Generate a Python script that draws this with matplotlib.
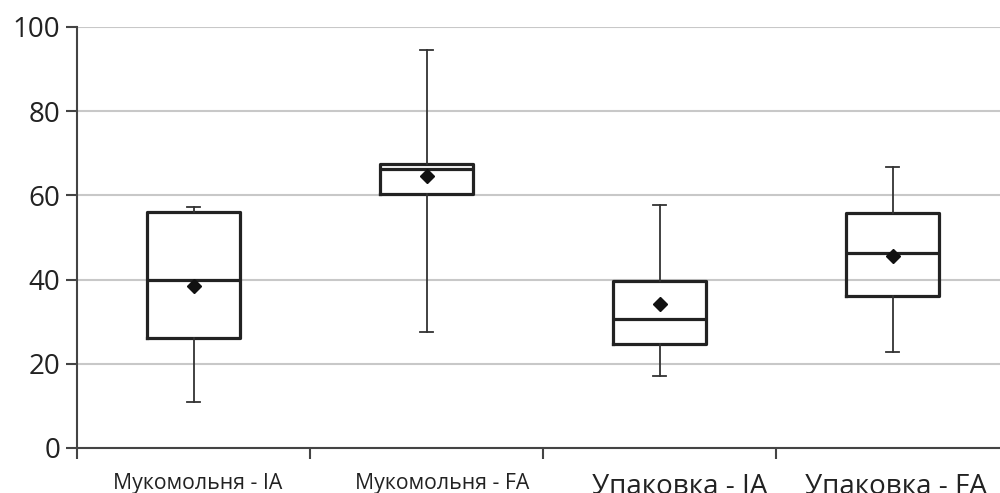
import matplotlib.pyplot as plt
import matplotlib.transforms as mtransforms
from matplotlib.ticker import FixedLocator

# Box plot summary for each sample group
categories = ["Мукомольня - IA", "Мукомольня - FA", "Упаковка - IA", "Упаковка - FA"]
whislo = [10.9, 27.6, 17.1, 22.8]
q1 = [26.1, 60.3, 24.7, 36.1]
med = [39.9, 66.3, 30.6, 46.3]
q3 = [56.1, 67.5, 39.7, 55.8]
whishi = [57.2, 94.5, 57.7, 66.7]
means = [38.5, 64.6, 34.2, 45.6]
label_sizes = [15.3, 15.3, 20, 20]
label_shift_px = [4, 16, 20, 3]

plt.rcParams['font.family'] = ['Open Sans', 'DejaVu Sans']

stats = []
for i, name in enumerate(categories):
    stats.append({"label": name, "whislo": whislo[i], "q1": q1[i], "med": med[i],
                  "q3": q3[i], "whishi": whishi[i], "mean": means[i], "fliers": []})

fig = plt.figure(figsize=(10, 4.93), dpi=100)
ax = fig.add_axes([0.077, 0.0913, 0.932, 0.854])

positions = [1, 2, 3, 4]
ax.bxp(stats, positions=positions, widths=0.4, showmeans=True, patch_artist=False,
       boxprops=dict(color="#222222", linewidth=2.3),
       medianprops=dict(color="#222222", linewidth=2.3),
       whiskerprops=dict(color="#333333", linewidth=1.3),
       capprops=dict(color="#333333", linewidth=1.3),
       capwidths=0.055,
       meanprops=dict(marker="D", markerfacecolor="#111111", markeredgecolor="#111111",
                      markersize=7))

ax.set_xlim(0.5, 4.5)
ax.set_ylim(0, 100)
ax.set_yticks([0, 20, 40, 60, 80, 100])
ax.yaxis.grid(True, color="#c8c8c8", linewidth=1.5)
ax.set_axisbelow(True)

for side in ["top", "right"]:
    ax.spines[side].set_visible(False)
for side in ["left", "bottom"]:
    ax.spines[side].set_color("#444444")
    ax.spines[side].set_linewidth(1.5)

ax.tick_params(axis="y", length=8, width=1.5, color="#444444", labelsize=20,
               labelcolor="#222222", pad=4)

# category boundaries get the tick marks, labels sit at the box centres
ax.set_xticks(positions)
ax.set_xticklabels(categories)
ax.xaxis.set_minor_locator(FixedLocator([0.5, 1.5, 2.5, 3.5, 4.5]))
ax.tick_params(axis="x", which="major", length=0, pad=18, labelcolor="#222222")
ax.tick_params(axis="x", which="minor", length=8, width=1.5, color="#444444")
for lbl, size, dx in zip(ax.get_xticklabels(), label_sizes, label_shift_px):
    lbl.set_fontsize(size)
    offset = mtransforms.ScaledTranslation(dx / 100, 0, fig.dpi_scale_trans)
    lbl.set_transform(lbl.get_transform() + offset)

fig.savefig("out.png", dpi=100)
